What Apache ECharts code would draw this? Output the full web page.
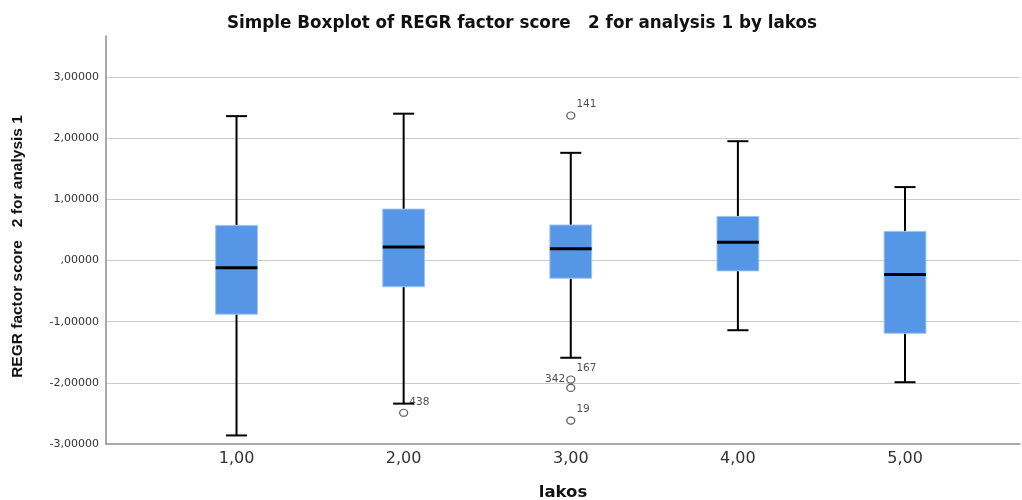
<!DOCTYPE html>
<html><head><meta charset="utf-8">
<script src="https://cdn.jsdelivr.net/npm/echarts@6/dist/echarts.min.js"></script>
<style>html,body{margin:0;padding:0;background:#fff}#c{width:1022px;height:500px}</style>
</head><body><div id="c"></div>
<script>
// ---- data ----
const categories   = [1, 2, 3, 4, 5];
const whiskerLow   = [-2.86, -2.34, -1.59, -1.14, -1.99];
const q1           = [-0.877, -0.43, -0.29, -0.17, -1.19];
const median       = [-0.12, 0.22, 0.19, 0.30, -0.23];
const q3           = [0.574, 0.84, 0.58, 0.72, 0.476];
const whiskerHigh  = [2.36, 2.40, 1.76, 1.95, 1.20];
const outlierGroup = [2, 3, 3, 3, 3];
const outlierValue = [-2.49, 2.37, -1.946, -2.083, -2.617];
const outlierCase  = ['438', '141', '167', '342', '19'];

const boxData = categories.map((c, i) => [c, whiskerLow[i], q1[i], median[i], q3[i], whiskerHigh[i]]);
const outlierData = outlierGroup.map((g, i) => {
  const left = outlierCase[i] === '342';
  return {
    value: [g, outlierValue[i]],
    name: outlierCase[i],
    label: left ? { position: 'left', offset: [4, -9] } : { position: 'right', offset: [-4, -11] }
  };
});

const fmtY = v => v === 0 ? ',00000' : v.toFixed(5).replace('.', ',');
const fmtX = v => Number.isInteger(v) ? v.toFixed(2).replace('.', ',') : '';

const chart = echarts.init(document.getElementById('c'), null, { renderer: 'canvas' });
chart.setOption({
  animation: false,
  backgroundColor: '#fff',
  title: {
    text: 'Simple Boxplot of REGR factor score   2 for analysis 1 by lakos',
    left: 517, top: 10, textAlign: 'center',
    textStyle: { fontFamily: 'DejaVu Sans', fontWeight: 'bold', fontSize: 16.8, color: '#111' }
  },
  grid: { left: 106, right: 2, top: 36, bottom: 56, containLabel: false, outerBoundsMode: 'none' },
  xAxis: {
    type: 'value', min: 0.219, max: 5.688,
    name: 'lakos', nameLocation: 'middle', nameGap: 40,
    nameTextStyle: { fontFamily: 'DejaVu Sans', fontWeight: 'bold', fontSize: 16.5, color: '#111' },
    axisLine: { show: true, onZero: false, lineStyle: { color: '#8c8c8c', width: 1.5 } },
    axisTick: { show: false },
    splitLine: { show: false },
    axisLabel: { formatter: fmtX, showMinLabel: false, showMaxLabel: false, margin: 7,
      fontFamily: 'DejaVu Sans', fontSize: 16, color: '#333' }
  },
  yAxis: {
    type: 'value', min: -3, max: 3.67, interval: 1,
    name: 'REGR factor score   2 for analysis 1', nameLocation: 'middle', nameGap: 80,
    nameTextStyle: { fontFamily: 'Liberation Sans', fontWeight: 'bold', fontSize: 15.5, color: '#111',
      padding: [0, 13, 0, 0] },
    axisLine: { show: true, onZero: false, lineStyle: { color: '#8c8c8c', width: 1.5 } },
    axisTick: { show: false },
    splitLine: { show: true, showMinLine: false, showMaxLine: false, lineStyle: { color: '#cccccc', width: 1.2 } },
    axisLabel: { formatter: fmtY, showMaxLabel: false, margin: 7,
      fontFamily: 'DejaVu Sans', fontSize: 11, color: '#333' }
  },
  series: [
    {
      type: 'custom',
      data: boxData,
      encode: { x: 0, y: [1, 2, 3, 4, 5] },
      renderItem: function (params, api) {
        const x = api.value(0);
        const pMin = api.coord([x, api.value(1)]);
        const pQ1 = api.coord([x, api.value(2)]);
        const pMed = api.coord([x, api.value(3)]);
        const pQ3 = api.coord([x, api.value(4)]);
        const pMax = api.coord([x, api.value(5)]);
        const unit = api.size([1, 0])[0];
        const half = unit * 0.125;
        const cap = unit * 0.063;
        const cx = pMed[0];
        const ls = { stroke: '#000', lineWidth: 2 };
        return {
          type: 'group',
          children: [
            { type: 'line', shape: { x1: cx, y1: pMax[1], x2: cx, y2: pQ3[1] }, style: ls },
            { type: 'line', shape: { x1: cx, y1: pQ1[1], x2: cx, y2: pMin[1] }, style: ls },
            { type: 'line', shape: { x1: cx - cap, y1: pMax[1], x2: cx + cap, y2: pMax[1] }, style: ls },
            { type: 'line', shape: { x1: cx - cap, y1: pMin[1], x2: cx + cap, y2: pMin[1] }, style: ls },
            { type: 'rect', shape: { x: cx - half, y: pQ3[1], width: 2 * half, height: pQ1[1] - pQ3[1] },
              style: { fill: '#5596e6', stroke: '#9cc3f0', lineWidth: 1 } },
            { type: 'line', shape: { x1: cx - half, y1: pMed[1], x2: cx + half, y2: pMed[1] },
              style: { stroke: '#000', lineWidth: 3 } }
          ]
        };
      }
    },
    {
      type: 'scatter',
      data: outlierData,
      symbol: 'circle',
      symbolSize: [8, 7],
      itemStyle: { color: '#fff', borderColor: '#333', borderWidth: 1.2 },
      label: { show: true, formatter: '{b}', distance: 5,
        fontFamily: 'DejaVu Sans', fontSize: 10.5, color: '#222' },
      z: 5
    }
  ]
});
</script>
</body></html>
